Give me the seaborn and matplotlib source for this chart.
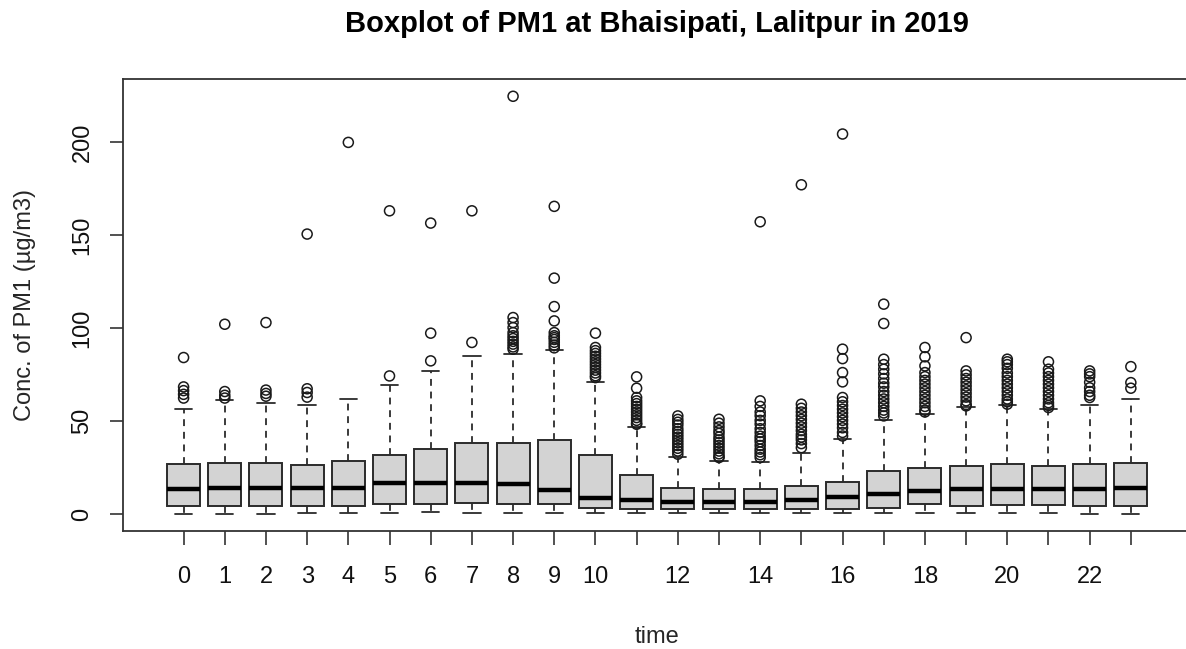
import numpy as np
import pandas as pd
import seaborn as sns
import matplotlib
matplotlib.use("Agg")
import matplotlib.pyplot as plt

# hours of the day
hours = list(range(24))

# box statistics (µg/m3)
whisker_low = [0, 0, 0, 0.5, 0.5, 0.5, 1.4, 0.5, 0.5, 0.5, 0.5, 0.5,
               0.5, 0.5, 0.5, 0.5, 0.5, 0.5, 0.5, 0.5, 0.5, 0.5, 0, 0]
q1 = [4.5, 4.5, 4.5, 4.5, 4.5, 5.4, 5.4, 6.3, 5.4, 5.4, 3.6, 2.7,
      2.7, 2.7, 2.7, 2.7, 2.7, 3.6, 5.4, 4.5, 5.0, 5.0, 4.5, 4.5]
median = [13.5, 14.3, 14.3, 14.3, 14.3, 17.0, 17.0, 17.0, 16.1, 12.9, 8.6, 7.7,
          6.8, 6.8, 6.8, 7.7, 9.5, 11.1, 12.5, 13.5, 13.5, 13.5, 13.5, 14.3]
q3 = [26.9, 27.4, 27.4, 26.7, 28.5, 31.7, 35.0, 38.2, 38.2, 39.8, 31.7, 21.2,
      14.3, 13.5, 13.5, 15.2, 17.5, 23.3, 25.1, 26.0, 26.9, 26.0, 26.9, 27.4]
whisker_high = [56.5, 61.3, 59.7, 58.7, 61.9, 69.4, 77.0, 85.2, 86.1, 88.4, 71.2, 47.1,
                30.8, 28.7, 28.3, 33.2, 40.4, 50.6, 53.8, 57.7, 58.8, 56.5, 58.8, 62.2]

# outliers per hour
outliers = [
    [84.3, 68.5, 66.5, 64.5, 62.5],
    [102.2, 66.0, 64.0, 62.5],
    [103.1, 66.8, 65.0, 63.5],
    [150.7, 67.5, 65.5, 63.0],
    [200.0],
    [163.2, 74.4],
    [156.6, 97.4, 82.5],
    [163.2, 92.4],
    [224.8, 105.8, 103.1, 100.4, 97.7, 96.0, 94.5, 93.0, 91.5, 90.0, 88.8],
    [165.6, 127.0, 111.7, 104.0, 97.7, 96.0, 95.0, 94.0, 92.5, 91.0, 89.5],
    [97.4, 89.7, 88.0, 86.5, 85.0, 83.5, 82.0, 80.5, 79.0, 77.5, 76.0, 74.5, 73.5],
    [73.9, 67.8, 62.8, 61.0, 59.5, 58.0, 56.5, 55.0, 53.5, 52.0, 50.5, 49.0, 48.4],
    [52.9, 51.0, 49.5, 48.0, 46.0, 44.5, 43.0, 41.5, 40.0, 38.5, 37.0, 35.5, 34.0, 32.3],
    [51.1, 49.0, 47.0, 45.0, 43.5, 41.5, 40.0, 38.5, 37.0, 35.5, 34.0, 32.5, 31.0, 30.5],
    [157.3, 61.0, 58.0, 55.0, 53.0, 50.5, 48.5, 46.0, 44.0, 42.0, 40.5, 39.0, 37.0, 35.0,
     33.5, 32.0, 30.5],
    [177.2, 59.2, 57.0, 55.0, 53.0, 51.0, 49.0, 47.0, 45.0, 43.0, 41.5, 40.0, 38.0, 35.8],
    [204.5, 88.8, 83.7, 76.2, 71.2, 62.8, 60.5, 58.5, 56.5, 54.5, 52.5, 50.5, 48.5, 46.5,
     44.0, 42.1],
    [113.0, 102.6, 83.4, 80.5, 78.0, 75.5, 73.0, 70.5, 68.5, 66.0, 64.0, 62.0, 60.0, 58.0,
     56.0, 54.5, 52.9],
    [89.7, 84.7, 79.8, 76.2, 74.0, 72.0, 70.0, 68.0, 66.0, 64.0, 62.0, 60.0, 58.0, 56.0, 55.0],
    [95.0, 77.1, 75.0, 73.0, 71.0, 69.0, 67.0, 65.0, 63.0, 61.0, 59.0, 58.3],
    [83.4, 82.0, 80.5, 78.5, 76.0, 74.0, 72.0, 70.0, 68.0, 66.0, 64.0, 62.0, 60.5, 59.2],
    [82.0, 78.0, 76.0, 74.0, 72.0, 70.0, 68.0, 66.0, 64.0, 62.0, 60.0, 58.5, 57.4],
    [77.1, 75.5, 74.0, 71.0, 68.0, 66.0, 64.0, 62.8],
    [79.4, 70.8, 67.8],
]

x_tick_labels = [str(h) if (h <= 10 or h % 2 == 0) else '' for h in hours]
y_ticks = [0, 50, 100, 150, 200]

# ----- plot -----
sns.set_theme(style="ticks")
plt.rcParams['font.family'] = ['Liberation Sans', 'DejaVu Sans']

fig = plt.figure(figsize=(11.86, 6.49), dpi=100)
ax = fig.add_axes([0.1041, 0.1818, 0.9001, 0.6965])

stats = []
for i in range(len(hours)):
    stats.append({'whislo': whisker_low[i], 'q1': q1[i], 'med': median[i],
                  'q3': q3[i], 'whishi': whisker_high[i], 'fliers': []})

ax.bxp(stats, positions=hours, widths=0.8, capwidths=0.42, showfliers=False,
       patch_artist=True,
       boxprops=dict(facecolor='#d3d3d3', edgecolor='#2b2b2b', linewidth=1.4),
       medianprops=dict(color='black', linewidth=3.2, solid_capstyle='butt'),
       whiskerprops=dict(color='#2b2b2b', linewidth=1.3, linestyle=(0, (3.8, 3.2))),
       capprops=dict(color='#2b2b2b', linewidth=1.3))

# outliers as open circles
df_out = pd.DataFrame([(h, v) for h, vals in zip(hours, outliers) for v in vals],
                      columns=['time', 'conc'])
sns.scatterplot(data=df_out, x='time', y='conc', ax=ax, marker='o', s=52,
                facecolor='none', edgecolor='#1a1a1a', linewidth=1.1, zorder=3)

ax.set_xlim(-1.46, 24.46)
ax.set_ylim(-9.0, 234.1)
ax.set_xticks(hours)
ax.set_xticklabels(x_tick_labels, fontsize=17)
ax.set_yticks(y_ticks)
ax.set_yticklabels([str(v) for v in y_ticks], fontsize=17, rotation=90, va='center')
ax.tick_params(axis='x', length=10, width=1.2, color='#333333', pad=15, labelcolor='#111111')
ax.tick_params(axis='y', length=9.5, width=1.2, color='#333333', pad=12, labelcolor='#111111')
ax.set_xlabel('')
ax.set_ylabel('')

for side in ['left', 'bottom', 'top', 'right']:
    ax.spines[side].set_visible(True)
    ax.spines[side].set_color('#333333')
    ax.spines[side].set_linewidth(1.3)

ax.set_title('Boxplot of PM1 at Bhaisipati, Lalitpur in 2019',
             fontsize=21, fontweight='bold', pad=34, color='black')
fig.text(657 / 1186, 1 - 643 / 649, 'time', ha='center', va='baseline', fontsize=17)
fig.text(25 / 1186, 1 - 305 / 649, 'Conc. of PM1 (µg/m3)', ha='center', va='center',
         rotation=90, fontsize=17)

plt.savefig('out.png', dpi=100)
